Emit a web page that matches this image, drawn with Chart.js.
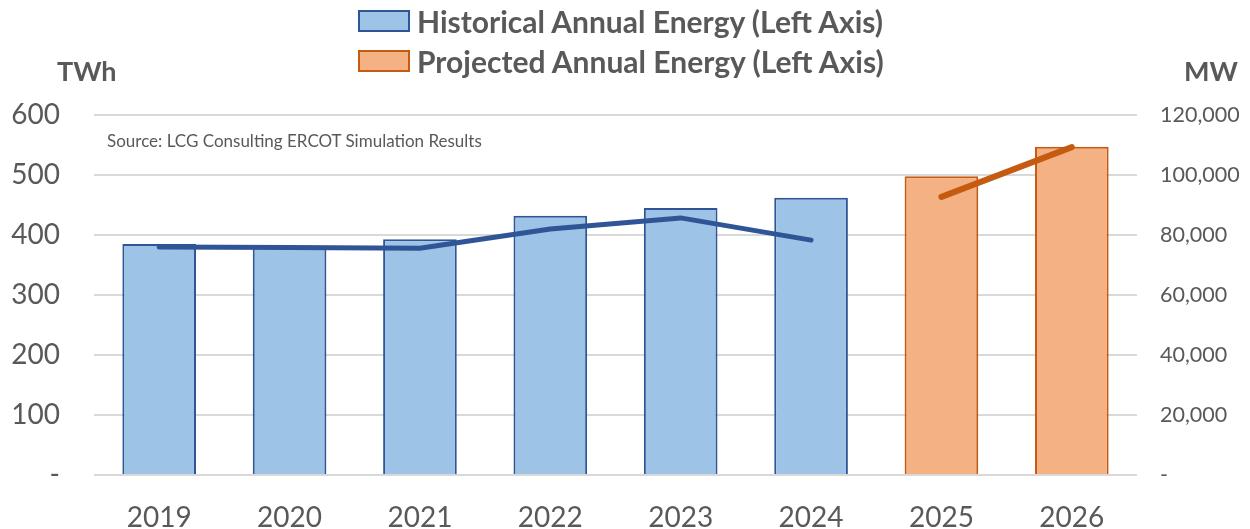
<!DOCTYPE html>
<html>
<head>
<meta charset="utf-8">
<script src="https://cdn.jsdelivr.net/npm/chart.js@4/dist/chart.umd.min.js"></script>
<style>
  html, body { margin: 0; padding: 0; background: #fff; }
  body { width: 1250px; height: 529px; position: relative; overflow: hidden; font-family: Lato, "Open Sans", sans-serif; color: #595959; }
  #wrap { position: absolute; left: 0; top: 0; width: 1250px; height: 529px; }
  .legend { position: absolute; left: 358px; top: 1px; }
  .legend-row { display: flex; align-items: center; height: 40px; font-size: 30px; font-weight: bold; }
  .legend-box { width: 52px; height: 22px; margin-right: 7px; box-sizing: border-box; border: 2px solid; }
  .axis-title { position: absolute; top: 54px; font-size: 27px; font-weight: bold; }
  .source { position: absolute; left: 107px; top: 130px; font-size: 17px; }
</style>
</head>
<body>
<div id="wrap"><canvas id="chart" width="1250" height="529"></canvas></div>
<div class="legend">
  <div class="legend-row"><span class="legend-box" style="background:#9DC3E6;border-color:#2F5597"></span>Historical Annual Energy (Left Axis)</div>
  <div class="legend-row"><span class="legend-box" style="background:#F4B183;border-color:#C55A11"></span>Projected Annual Energy (Left Axis)</div>
</div>
<div class="axis-title" style="left:57px">TWh</div>
<div class="axis-title" style="left:1184px">MW</div>
<div class="source">Source: LCG Consulting ERCOT Simulation Results</div>
<script>
const years = ['2019', '2020', '2021', '2022', '2023', '2024', '2025', '2026']

// annual energy, TWh (left axis)
const historicalEnergy = [385, 382, 393, 432, 445, 462, null, null]
const projectedEnergy  = [null, null, null, null, null, null, 498, 547]

// peak demand, MW (right axis)
const historicalPeak = [76000, 75800, 75600, 82000, 85700, 78300, null, null]
const projectedPeak  = [null, null, null, null, null, null, 92700, 109300]

const GREY = '#595959'
const GRID = '#D9D9D9'

function fixWidth(w) { return axis => { axis.width = w } }

new Chart(document.getElementById('chart').getContext('2d'), {
  type: 'bar',
  data: {
    labels: years,
    datasets: [
      {
        type: 'line', label: 'Historical Peak', data: historicalPeak, yAxisID: 'yR',
        borderColor: '#2F5597', borderWidth: 5, pointRadius: 0, tension: 0,
        borderCapStyle: 'round', spanGaps: false, order: 0
      },
      {
        type: 'line', label: 'Projected Peak', data: projectedPeak, yAxisID: 'yR',
        borderColor: '#C55A11', borderWidth: 6, pointRadius: 0, tension: 0,
        borderCapStyle: 'round', spanGaps: false, order: 0
      },
      {
        label: 'Historical Annual Energy (Left Axis)', data: historicalEnergy, yAxisID: 'y',
        backgroundColor: '#9DC3E6', borderColor: '#2F5597', borderWidth: 2,
        barPercentage: 0.565, categoryPercentage: 1, order: 1
      },
      {
        label: 'Projected Annual Energy (Left Axis)', data: projectedEnergy, yAxisID: 'y',
        backgroundColor: '#F4B183', borderColor: '#C55A11', borderWidth: 2,
        barPercentage: 0.565, categoryPercentage: 1, order: 1
      }
    ]
  },
  options: {
    responsive: false,
    animation: false,
    layout: { padding: { top: 115, left: 0, right: 0, bottom: 0 } },
    plugins: { legend: { display: false }, tooltip: { enabled: false } },
    scales: {
      x: {
        stacked: true,
        grid: { display: false, drawTicks: false },
        border: { display: false },
        ticks: { color: GREY, font: { family: 'Lato', size: 28 }, padding: 26 },
        afterFit: axis => { axis.height = 54 }
      },
      y: {
        position: 'left', min: 0, max: 600,
        grid: { color: GRID, lineWidth: 2, drawTicks: false },
        border: { display: false },
        ticks: {
          stepSize: 100, color: GREY, padding: 34,
          font: { family: 'Lato', size: 28 },
          callback: v => v === 0 ? '-' : v
        },
        afterFit: fixWidth(94)
      },
      yR: {
        position: 'right', min: 0, max: 120000,
        grid: { display: false, drawTicks: false },
        border: { display: false },
        ticks: {
          stepSize: 20000, color: GREY, padding: 23,
          font: { family: 'Lato', size: 21.5 },
          callback: v => v === 0 ? '-' : v.toLocaleString('en-US')
        },
        afterFit: fixWidth(113)
      }
    }
  }
})
</script>
</body>
</html>
